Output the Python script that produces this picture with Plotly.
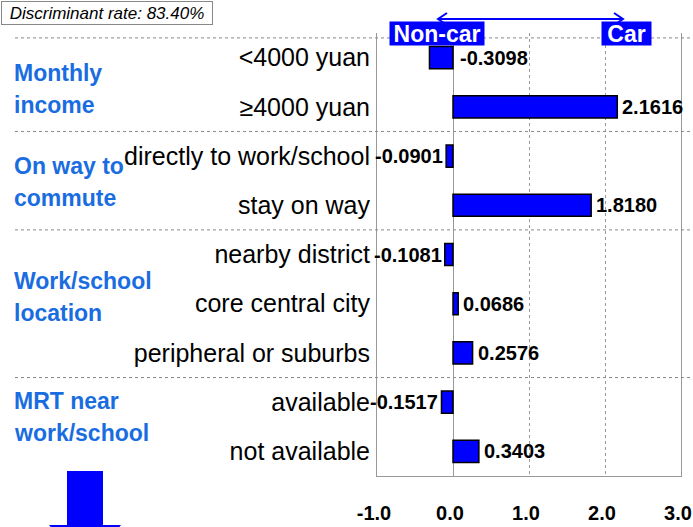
import plotly.graph_objects as go

# ---- data ----
categories = ["<4000 yuan", "≥4000 yuan", "directly to work/school", "stay on way",
              "nearby district", "core central city", "peripheral or suburbs",
              "available", "not available"]
values = [-0.3098, 2.1616, -0.0901, 1.8180, -0.1081, 0.0686, 0.2576, -0.1517, 0.3403]
label_at_zero = [True, False, False, False, False, False, False, False, False]
groups = [("Monthly", "income", [0, 1]),
          ("On way to", "commute", [2, 3]),
          ("Work/school", "location", [4, 5, 6]),
          ("MRT near", "work/school", [7, 8])]
tick_vals = [-1, 0, 1, 2, 3]
tick_text = ["-1.0", "0.0", "1.0", "2.0", "3.0"]
rate_text = "Discriminant rate: 83.40%"

# ---- layout / style ----
W, H = 693, 527
ML, MR, MT, MB = 377, 12, 33, 51
PW, PH = W - ML - MR, H - MT - MB
group_label_shift = [7, 1, -7, -10]   # px, downward


def px(x):
    return (x - ML) / PW


def py(y):
    return (H - MB - y) / PH


BLUE = "#0000FF"
GBLUE = "#1a6de0"
SANS = "Liberation Sans, Arial, sans-serif"

fig = go.Figure()
fig.add_trace(go.Bar(
    x=values, y=list(range(len(categories))), orientation="h",
    marker=dict(color=BLUE, line=dict(color="black", width=1.5)),
    width=0.45, hoverinfo="skip", showlegend=False,
))

annotations = []
for i, (v, z) in enumerate(zip(values, label_at_zero)):
    right = z or v >= 0
    annotations.append(dict(x=0 if z else v, y=i, xref="x", yref="y",
                            text=f"{v:.4f}", showarrow=False,
                            xanchor="left" if right else "right",
                            xshift=(5 if z else 3) if right else -1,
                            font=dict(family=SANS, size=20, color="black", weight="bold")))

for (l1, l2, idx), sh0 in zip(groups, group_label_shift):
    yc = sum(idx) / len(idx)
    for txt, sh in ((l1, 16), (l2, -16)):
        annotations.append(dict(x=px(12), y=yc, xref="paper", yref="y", text=txt,
                                showarrow=False, xanchor="left", yanchor="middle",
                                yshift=sh - sh0,
                                font=dict(family=SANS, size=23, color=GBLUE, weight="bold")))

# header boxes
annotations.append(dict(x=px(389), y=py(20.5), xref="paper", yref="paper", text="Non-car",
                        showarrow=False, bgcolor=BLUE, width=92, height=21, borderpad=1,
                        font=dict(family=SANS, size=23, color="white", weight="bold")))
annotations.append(dict(x=px(651.5), y=py(20.5), xref="paper", yref="paper", text="Car",
                        showarrow=False, bgcolor=BLUE, width=47, height=21, borderpad=1,
                        font=dict(family=SANS, size=23, color="white", weight="bold")))
# discriminant rate box
annotations.append(dict(x=px(0.5), y=py(0.5), xref="paper", yref="paper", text=rate_text,
                        showarrow=False, xanchor="left", yanchor="top",
                        bgcolor="white", bordercolor="#888888", borderwidth=1, borderpad=2,
                        width=206, height=18, align="center",
                        font=dict(family=SANS, size=17, color="black", style="italic")))

shapes = []
# group separators (dotted)
for yv in [-0.4, 1.5, 3.5, 6.5, 8.55]:
    shapes.append(dict(type="line", xref="paper", yref="y", x0=px(15), x1=px(690),
                       y0=yv, y1=yv, line=dict(color="#888888", width=1, dash="dot")))
# header double arrow
shapes.append(dict(type="line", xref="paper", yref="paper", x0=px(439), x1=px(622),
                   y0=py(19), y1=py(19), line=dict(color=BLUE, width=2)))
shapes.append(dict(type="path", xref="paper", yref="paper",
                   path=f"M {px(447)},{py(13)} L {px(438)},{py(19)} L {px(447)},{py(25)}",
                   line=dict(color=BLUE, width=2)))
shapes.append(dict(type="path", xref="paper", yref="paper",
                   path=f"M {px(614)},{py(13)} L {px(623)},{py(19)} L {px(614)},{py(25)}",
                   line=dict(color=BLUE, width=2)))
# big down arrow bottom-left
pts = [(67, 471), (103, 471), (103, 525), (121, 525), (85, 570), (49, 525), (67, 525)]
path = "M " + " L ".join(f"{px(a)},{py(b)}" for a, b in pts) + " Z"
shapes.append(dict(type="path", xref="paper", yref="paper", path=path,
                   fillcolor=BLUE, line=dict(color=BLUE, width=0), layer="above"))

fig.update_layout(
    width=W, height=H,
    margin=dict(l=ML, r=MR, t=MT, b=MB, autoexpand=False),
    paper_bgcolor="white", plot_bgcolor="white",
    annotations=annotations, shapes=shapes,
    xaxis=dict(range=[-1, 3], tickvals=tick_vals, ticktext=tick_text, automargin=False,
               showgrid=True, gridcolor="#999999", griddash="dot", gridwidth=1,
               zeroline=True, zerolinecolor="#999999", zerolinewidth=1,
               showline=True, linecolor="#999999", linewidth=1, mirror=False,
               ticks="", ticklabelstandoff=19, ticklabelshift=-3, ticklabeloverflow="allow",
               tickfont=dict(family=SANS, size=20, color="black", weight="bold")),
    yaxis=dict(tickvals=list(range(len(categories))), ticktext=categories, automargin=False,
               range=[8.5, -0.5], showgrid=False, zeroline=False,
               showline=True, linecolor="#999999", linewidth=1, mirror=True,
               ticks="", ticklabelstandoff=1,
               tickfont=dict(family=SANS, size=25, color="black")),
)

fig.write_html("out.html", config={"displayModeBar": False},
               post_script="document.body.style.margin='0';document.body.style.overflow='hidden';")
